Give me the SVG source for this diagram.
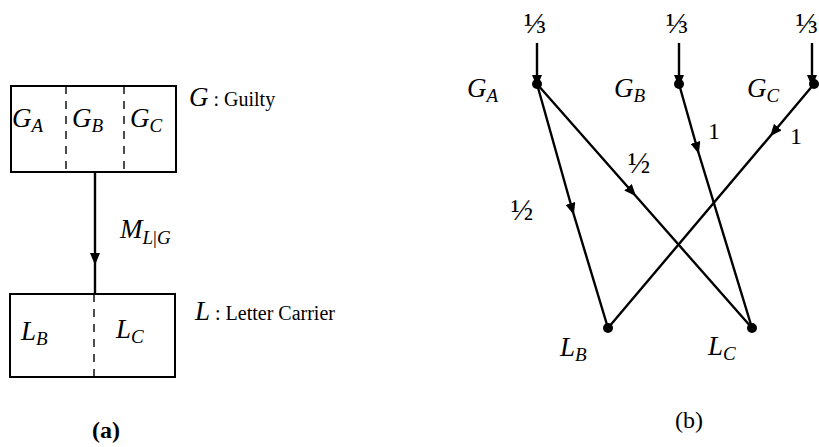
<svg xmlns="http://www.w3.org/2000/svg" width="819" height="447" viewBox="0 0 819 447">
<style>
.ln{stroke:#000;stroke-width:2.4;fill:none}
.dash{stroke:#000;stroke-width:1.4;stroke-dasharray:8,7;fill:none}
.box{stroke:#000;stroke-width:2;fill:none}
.m{font-family:"Liberation Serif","DejaVu Serif",serif;font-style:italic;font-size:27px;fill:#000}
.t{font-family:"Liberation Serif","DejaVu Serif",serif;font-size:20px;fill:#000}
.f{font-family:"Liberation Serif","DejaVu Serif",serif;font-size:30px;fill:#000}
.one{font-family:"Liberation Serif","DejaVu Serif",serif;font-size:24px;fill:#000}
.cap{font-family:"Liberation Serif","DejaVu Serif",serif;font-size:24px;fill:#000}
.sub{font-size:19px}
.dot{fill:#000}
</style>
<defs>
<marker id="ah" markerWidth="13" markerHeight="10" refX="9" refY="5" orient="auto" markerUnits="userSpaceOnUse">
<path d="M0,0 L12,5 L0,10 Z" fill="#000"/>
</marker>
</defs>

<!-- (a) -->
<g id="G-box">
<rect class="box" x="11" y="86" width="165" height="86"/>
<line class="dash" x1="66" y1="86" x2="66" y2="172"/>
<line class="dash" x1="124" y1="86" x2="124" y2="172"/>
<text class="m" x="12" y="127">G<tspan class="sub" dy="5">A</tspan></text>
<text class="m" x="72" y="127">G<tspan class="sub" dy="5">B</tspan></text>
<text class="m" x="130" y="127">G<tspan class="sub" dy="5">C</tspan></text>
<text x="189" y="106"><tspan class="m">G</tspan><tspan class="t"> :  Guilty</tspan></text>
</g>
<g id="L-box">
<rect class="box" x="10" y="294" width="165" height="83"/>
<line class="dash" x1="94" y1="294" x2="94" y2="377"/>
<text class="m" x="21" y="340">L<tspan class="sub" dy="5">B</tspan></text>
<text class="m" x="116" y="338">L<tspan class="sub" dy="5">C</tspan></text>
<text x="195" y="320"><tspan class="m">L</tspan><tspan class="t"> :  Letter Carrier</tspan></text>
</g>
<g id="connectors-a">
<path class="ln" d="M95,172 L95,262 L95,294" marker-mid="url(#ah)"/>
<text class="m" x="120" y="238">M<tspan class="sub" dy="6">L</tspan><tspan class="sub" font-style="normal">|</tspan><tspan class="sub">G</tspan></text>
</g>
<text class="cap" font-weight="bold" x="106" y="438" text-anchor="middle">(a)</text>

<!-- (b) -->
<g id="node-GA">
<circle class="dot" cx="537" cy="84" r="5"/>
<text class="m" x="467" y="97">G<tspan class="sub" dy="5">A</tspan></text>
</g>
<g id="node-GB">
<circle class="dot" cx="679" cy="84" r="5"/>
<text class="m" x="614" y="97">G<tspan class="sub" dy="5">B</tspan></text>
</g>
<g id="node-GC">
<circle class="dot" cx="814" cy="84" r="5"/>
<text class="m" x="747" y="97">G<tspan class="sub" dy="5">C</tspan></text>
</g>
<g id="node-LB">
<circle class="dot" cx="608" cy="328" r="5"/>
<text class="m" x="560" y="356">L<tspan class="sub" dy="5">B</tspan></text>
</g>
<g id="node-LC">
<circle class="dot" cx="752" cy="328" r="5"/>
<text class="m" x="708" y="355">L<tspan class="sub" dy="5">C</tspan></text>
</g>

<g id="connectors-b">
<path class="ln" d="M537,43 L537,84" marker-end="url(#ah)"/>
<path class="ln" d="M679,43 L679,84" marker-end="url(#ah)"/>
<path class="ln" d="M812,43 L812,84" marker-end="url(#ah)"/>
<path class="ln" d="M537,84 L573,212 L608,328" marker-mid="url(#ah)"/>
<path class="ln" d="M537,84 L634,194 L752,328" marker-mid="url(#ah)"/>
<path class="ln" d="M679,84 L698,151 L752,328" marker-mid="url(#ah)"/>
<path class="ln" d="M814,84 L772,134 L608,328" marker-mid="url(#ah)"/>
<text class="f" x="535" y="33" text-anchor="middle">⅓</text>
<text class="f" x="677" y="33" text-anchor="middle">⅓</text>
<text class="f" x="818" y="33" text-anchor="end">⅓</text>
<text class="f" x="522" y="220" text-anchor="middle">½</text>
<text class="f" x="639" y="173" text-anchor="middle">½</text>
<text class="one" x="714" y="139" text-anchor="middle">1</text>
<text class="one" x="796" y="144" text-anchor="middle">1</text>
</g>
<text class="cap" x="689" y="428" text-anchor="middle">(b)</text>
</svg>
